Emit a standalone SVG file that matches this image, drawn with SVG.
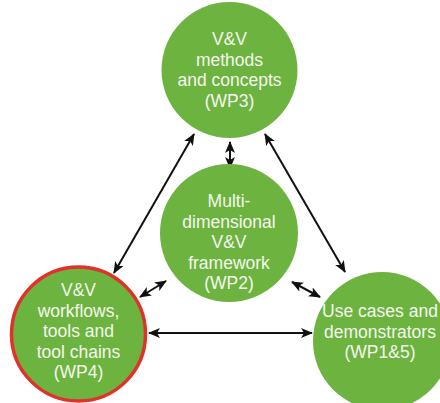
<svg xmlns="http://www.w3.org/2000/svg" width="440" height="403" viewBox="0 0 440 403">
<style>
.node{fill:#6db33f}
.hl{stroke:#e0312a;stroke-width:3.5}
.lbl{font-family:"Liberation Sans",Arial,sans-serif;font-size:17.5px;fill:#f4f8ee;text-anchor:middle}
.arr{stroke:#111;stroke-width:2;fill:none;marker-start:url(#ah);marker-end:url(#ah)}
</style>
<defs>
<marker id="ah" viewBox="0 0 12 10" refX="11" refY="5" markerWidth="12" markerHeight="10" markerUnits="userSpaceOnUse" orient="auto-start-reverse">
<path d="M0,0 L12,5 L0,10 L3,5 Z" fill="#111"/>
</marker>
</defs>
<rect width="440" height="403" fill="#fff"/>
<g id="connectors">
<line class="arr" x1="194" y1="134" x2="114" y2="273"/>
<line class="arr" x1="265" y1="134" x2="345" y2="272"/>
<line class="arr" x1="230" y1="142" x2="230" y2="168"/>
<line class="arr" x1="140" y1="297" x2="166" y2="281"/>
<line class="arr" x1="292" y1="282" x2="320" y2="297"/>
<line class="arr" x1="149" y1="333" x2="312" y2="333"/>
</g>
<g id="wp3">
<circle class="node" cx="229.5" cy="70" r="68"/>
<text class="lbl" x="229.5" y="45">V&amp;V</text>
<text class="lbl" x="229.5" y="65.5">methods</text>
<text class="lbl" x="229.5" y="86">and concepts</text>
<text class="lbl" x="229.5" y="106.5">(WP3)</text>
</g>
<g id="wp2">
<circle class="node" cx="229" cy="233" r="69"/>
<text class="lbl" x="229" y="207">Multi-</text>
<text class="lbl" x="229" y="227.5">dimensional</text>
<text class="lbl" x="229" y="248">V&amp;V</text>
<text class="lbl" x="229" y="268.5">framework</text>
<text class="lbl" x="229" y="289">(WP2)</text>
</g>
<g id="wp4">
<circle class="node hl" cx="78.5" cy="334" r="67"/>
<text class="lbl" x="78.5" y="296">V&amp;V</text>
<text class="lbl" x="78.5" y="316.5">workflows,</text>
<text class="lbl" x="78.5" y="337">tools and</text>
<text class="lbl" x="78.5" y="357.5">tool chains</text>
<text class="lbl" x="78.5" y="378">(WP4)</text>
</g>
<g id="wp15">
<circle class="node" cx="382" cy="341" r="69"/>
<text class="lbl" x="380" y="317">Use cases and</text>
<text class="lbl" x="380" y="337.5">demonstrators</text>
<text class="lbl" x="380" y="358">(WP1&amp;5)</text>
</g>
</svg>
